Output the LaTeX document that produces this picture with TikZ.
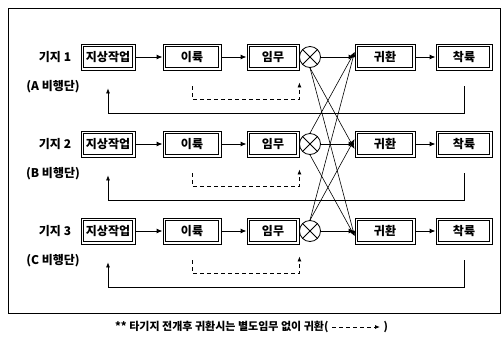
\documentclass[tikz,border=0pt]{standalone}
\usepackage{fontspec}
\setmainfont{Noto Sans CJK KR}
\usetikzlibrary{calc,arrows.meta}

\begin{document}
\begin{tikzpicture}[x=1pt,y=-1pt,font=\bfseries\fontsize{12}{12}\selectfont,
    stepbox/.style={draw,line width=0.9pt,minimum height=26pt,inner sep=1pt,
        path picture={\draw[line width=0.6pt] ([shift={(2.5pt,2.5pt)}]path picture bounding box.south west)
            rectangle ([shift={(-2.5pt,-2.5pt)}]path picture bounding box.north east);}},
    flow/.style={-{Latex[length=6pt,width=5pt]},line width=1pt},
    back/.style={-{Latex[length=5pt,width=4pt]},line width=0.6pt},
    skip/.style={-{Latex[length=5pt,width=4pt]},line width=0.8pt,dash pattern=on 4pt off 3pt}]
    \useasboundingbox (0,0) rectangle (504,341);
    \draw[line width=0.8pt] (8,8) rectangle (500,313);
    \foreach \r/\y/\w in {1/57/A,2/144/B,3/231/C} {
            \node (lbl\r) at (55,\y) {기지 \r};
            \node (sub\r) at (53,\y+30) {(\w\ 비행단)};
            \node[stepbox,minimum width=54pt] (g\r) at (108,\y) {지상작업};
            \node[stepbox,minimum width=58pt] (t\r) at (192,\y) {이륙};
            \node[stepbox,minimum width=52pt] (m\r) at (273,\y) {임무};
            \node[draw,circle,line width=0.8pt,minimum size=21pt,inner sep=0pt] (c\r) at (310,\y) {};
            \draw[line width=0.8pt] (c\r.north west) -- (c\r.south east) (c\r.north east) -- (c\r.south west);
            \node[stepbox,minimum width=60pt] (r\r) at (385,\y) {귀환};
            \node[stepbox,minimum width=56pt] (l\r) at (464,\y) {착륙};
            \draw[flow] (g\r) -- (t\r);
            \draw[flow] (t\r) -- (m\r);
            \draw[flow] (c\r) -- (r\r);
            \draw[flow] (r\r) -- (l\r);
            \draw[back] ([yshift=-16pt]l\r.south) |- ([yshift=-43pt]g\r.south) -- ([yshift=-18pt]g\r.south);
            \draw[skip] ([yshift=-16pt]t\r.south) |- ([yshift=-29pt]m\r.south east) -- ([yshift=-12pt]m\r.south east);
        }
    % 타기지 귀환 경로
    \foreach \i/\j in {1/2,1/3,2/3} {
            \draw[back] (c\i.south) -- ([yshift=-5pt]r\j.west);
            \draw[back] (c\j.north) -- ([yshift=5pt]r\i.west);
        }
    \node[anchor=east,font=\bfseries\fontsize{11}{11}\selectfont] (note) at (332,327) {** 타기지 전개후 귀환시는 별도임무 없이 귀환(};
    \coordinate (noteend) at (380,327);
    \node[anchor=west,font=\bfseries\fontsize{11}{11}\selectfont] (close) at (noteend) {)};
    \draw[skip] (note.east) -- (noteend);
\end{tikzpicture}
\end{document}
